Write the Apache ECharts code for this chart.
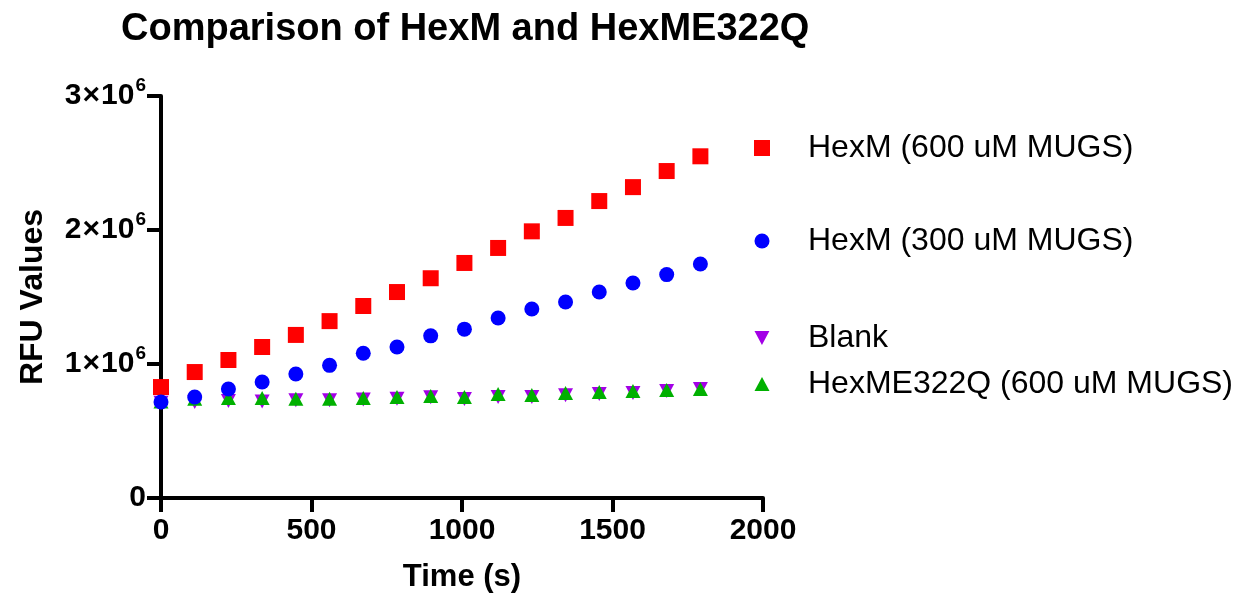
<!DOCTYPE html>
<html>
<head>
<meta charset="utf-8">
<script src="https://cdn.jsdelivr.net/npm/echarts@6/dist/echarts.min.js"></script>
<style>
  html, body { margin: 0; padding: 0; background: #fff; }
  #chart { width: 1241px; height: 596px; }
</style>
</head>
<body>
<div id="chart"></div>
<script>
// Sampling times (s)
const timeSec = [0, 112, 224, 336, 448, 560, 672, 784, 896, 1008, 1120, 1232, 1344, 1456, 1568, 1680, 1792];

// RFU readings per condition
const hexM600 = [828000, 940000, 1030000, 1127000, 1217000, 1320000, 1433000, 1537000, 1640000, 1754000, 1866000, 1990000, 2090000, 2216000, 2320000, 2440000, 2550000];
const hexM300 = [716000, 754000, 813000, 866000, 925000, 990000, 1080000, 1127000, 1210000, 1260000, 1343000, 1410000, 1463000, 1537000, 1604000, 1667000, 1746000];
const blank = [710000, 716000, 724000, 720000, 730000, 730000, 735000, 740000, 752000, 739000, 754000, 754000, 766000, 776000, 784000, 798000, 813000];
const hexME322Q = [720000, 740000, 746000, 746000, 740000, 740000, 746000, 754000, 761000, 754000, 776000, 769000, 784000, 791000, 798000, 806000, 813000];

const seriesNames = ['HexM (600 uM MUGS)', 'HexM (300 uM MUGS)', 'Blank', 'HexME322Q (600 uM MUGS)'];
const xTicks = [0, 500, 1000, 1500, 2000];
const yTicks = [0, 1, 2, 3]; // multiples of 10^6

const FONT = 'Liberation Sans, Arial, sans-serif';
const DOWN_TRIANGLE = 'path://M0,0 L10,0 L5,9.4 Z';

function pairs(xs, ys) { return xs.map((x, i) => [x, ys[i]]); }

function legendRow(name, top, w, h) {
  return {
    data: [name],
    left: 762 - w / 2,
    top: top,
    padding: 0,
    itemWidth: w,
    itemHeight: h,
    selectedMode: false,
    textStyle: { fontFamily: FONT, fontSize: 32, color: '#000', padding: [0, 0, 0, 808 - (762 + w / 2) - 5] }
  };
}

const chart = echarts.init(document.getElementById('chart'), null, { renderer: 'canvas' });

chart.setOption({
  animation: false,
  backgroundColor: '#fff',
  title: {
    text: 'Comparison of HexM and HexME322Q',
    left: 116,
    top: 6,
    textStyle: { fontFamily: FONT, fontWeight: 'bold', fontSize: 38, color: '#000' }
  },
  legend: [
    legendRow(seriesNames[0], 148 - 16, 16, 16),
    legendRow(seriesNames[1], 241 - 16, 15, 15),
    legendRow(seriesNames[2], 338 - 16, 15, 14),
    legendRow(seriesNames[3], 384 - 16, 15, 14)
  ],
  grid: { left: 161, right: 478, top: 96, bottom: 98, containLabel: false, outerBoundsMode: 'none' },
  xAxis: {
    type: 'value',
    min: xTicks[0],
    max: xTicks[xTicks.length - 1],
    interval: 500,
    name: 'Time (s)',
    nameLocation: 'middle',
    nameGap: 64,
    nameTextStyle: { fontFamily: FONT, fontWeight: 'bold', fontSize: 31, color: '#000' },
    axisLine: { show: true, onZero: false, lineStyle: { color: '#000', width: 4 } },
    axisTick: { show: true, inside: false, length: 14, lineStyle: { color: '#000', width: 4 } },
    axisLabel: {
      margin: 18,
      fontFamily: FONT, fontWeight: 'bold', fontSize: 30, color: '#000',
      formatter: v => (xTicks.indexOf(v) >= 0 ? String(v) : '')
    },
    splitLine: { show: false }
  },
  yAxis: {
    type: 'value',
    min: 0,
    max: 3000000,
    interval: 1000000,
    name: 'RFU Values',
    nameLocation: 'middle',
    nameGap: 112,
    nameTextStyle: { fontFamily: FONT, fontWeight: 'bold', fontSize: 32, color: '#000' },
    axisLine: { show: true, onZero: false, lineStyle: { color: '#000', width: 4 } },
    axisTick: { show: true, inside: false, length: 14, lineStyle: { color: '#000', width: 4 } },
    axisLabel: {
      margin: 15,
      formatter: v => {
        const m = Math.round(v / 1e6);
        if (yTicks.indexOf(m) < 0) return '';
        return m === 0 ? '{z|0}' : '{a|' + m + '}{x|×}{a|10}{s|6}';
      },
      rich: {
        z: { fontFamily: FONT, fontWeight: 'bold', fontSize: 30, color: '#000' },
        a: { fontFamily: FONT, fontWeight: 'bold', fontSize: 30, color: '#000' },
        x: { fontFamily: FONT, fontWeight: 'bold', fontSize: 30, color: '#000', padding: [0, 1, 0, 1] },
        s: { fontFamily: FONT, fontWeight: 'bold', fontSize: 19, color: '#000', padding: [0, 0, 20, 1] }
      }
    },
    splitLine: { show: false }
  },
  series: [
    {
      name: seriesNames[0], type: 'scatter', symbol: 'rect', symbolSize: 16,
      itemStyle: { color: '#FF0000', opacity: 1 }, data: pairs(timeSec, hexM600)
    },
    {
      name: seriesNames[2], type: 'scatter', symbol: DOWN_TRIANGLE, symbolSize: [15, 14],
      itemStyle: { color: '#A300E6', opacity: 1 }, data: pairs(timeSec, blank)
    },
    {
      name: seriesNames[3], type: 'scatter', symbol: 'triangle', symbolSize: [15, 14],
      itemStyle: { color: '#00B000', opacity: 1 }, data: pairs(timeSec, hexME322Q)
    },
    {
      name: seriesNames[1], type: 'scatter', symbol: 'circle', symbolSize: 15,
      itemStyle: { color: '#0000FF', opacity: 1 }, data: pairs(timeSec, hexM300)
    }
  ]
});
</script>
</body>
</html>
